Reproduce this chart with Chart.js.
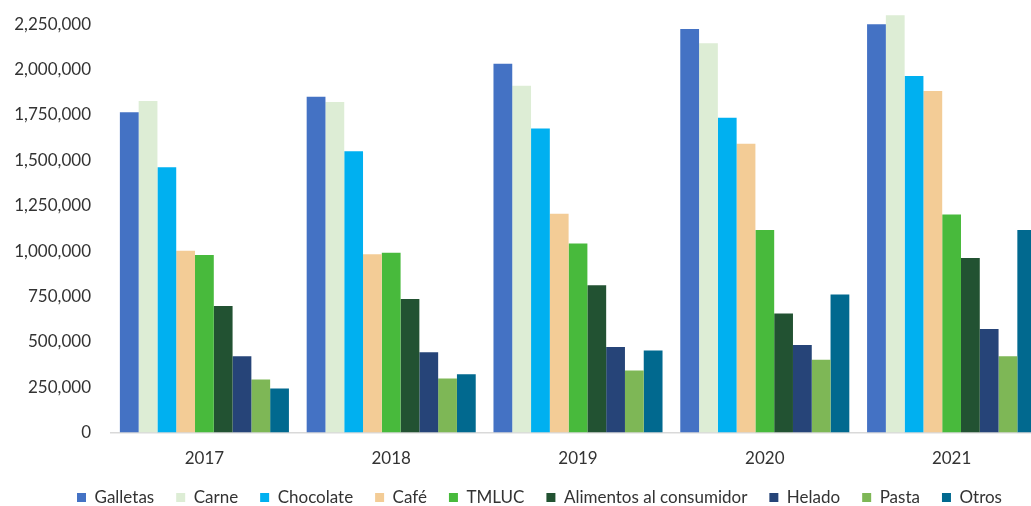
<!DOCTYPE html>
<html>
<head>
<meta charset="utf-8">
<script src="https://cdn.jsdelivr.net/npm/chart.js@4"></script>
<style>
    html, body { margin: 0; padding: 0; background: #fff; overflow: hidden; }
    #wrap { width: 1045px; height: 506px; }
</style>
</head>
<body>
<div id="wrap"><canvas id="salesChart" width="1045" height="506"></canvas></div>
<script>
// Years on the x axis
const years = ["2017", "2018", "2019", "2020", "2021"];

// One array per product line
const galletas   = [1765000, 1850000, 2032000, 2223000, 2249000];
const carne      = [1826000, 1821000, 1911000, 2144000, 2298000];
const chocolate  = [1462000, 1550000, 1675000, 1734000, 1964000];
const cafe       = [1002000, 982000, 1206000, 1591000, 1881000];
const tmluc      = [978000, 991000, 1041000, 1116000, 1201000];
const alimentos  = [697000, 736000, 811000, 656000, 962000];
const helado     = [421000, 443000, 471000, 482000, 570000];
const pasta      = [292000, 298000, 342000, 401000, 421000];
const otros      = [243000, 322000, 452000, 761000, 1116000];

const seriesNames = ["Galletas", "Carne", "Chocolate", "Café", "TMLUC",
                     "Alimentos al consumidor", "Helado", "Pasta", "Otros"];
const seriesColors = ["#4472C4", "#DDEDD5", "#00B0F0", "#F3CC96", "#48BA3C",
                      "#225232", "#264478", "#7EB756", "#01698F"];
const seriesValues = [galletas, carne, chocolate, cafe, tmluc, alimentos, helado, pasta, otros];

const yTicks = [0, 250000, 500000, 750000, 1000000, 1250000, 1500000, 1750000, 2000000, 2250000];

const datasets = seriesNames.map((name, i) => ({
    label: name,
    data: seriesValues[i],
    backgroundColor: seriesColors[i],
    borderWidth: 0,
    barPercentage: 1.0,
    categoryPercentage: 0.905
}));

const font = "Lato, 'Open Sans', sans-serif";

// nudge the legend: the canvas runs past the right edge of the page,
// so centre it on the visible part and pull it a bit closer to the axis
const legendShift = {
    id: 'legendShift',
    afterLayout(chart) {
        const lg = chart.legend;
        lg.left += 34;
        lg.top -= 18;
        lg.bottom -= 18;
    }
};

new Chart(document.getElementById('salesChart').getContext('2d'), {
    type: 'bar',
    data: { labels: years, datasets: datasets },
    plugins: [legendShift],
    options: {
        responsive: false,
        animation: false,
        layout: { padding: { left: 0, top: 0, right: 0, bottom: -28 } },
        plugins: {
            tooltip: { enabled: false },
            legend: {
                position: 'bottom',
                labels: {
                    boxWidth: 9,
                    boxHeight: 9,
                    padding: 22,
                    color: "#333",
                    font: { family: font, size: 17 }
                }
            }
        },
        scales: {
            x: {
                grid: { display: false, drawTicks: false },
                border: { color: "#D9D9D9", width: 1.5 },
                ticks: { color: "#333", padding: 16, font: { family: font, size: 17 } }
            },
            y: {
                min: 0,
                max: 2300000,
                afterFit: s => {
                    s.width = 111;
                    s.paddingTop = 15;
                    s.paddingBottom = 0;
                },
                afterBuildTicks: s => { s.ticks = yTicks.map(v => ({ value: v })); },
                grid: { display: false, drawTicks: false },
                border: { display: false },
                ticks: {
                    color: "#333",
                    padding: 20,
                    font: { family: font, size: 17 },
                    callback: v => v.toLocaleString('en-US')
                }
            }
        }
    }
});
</script>
</body>
</html>
